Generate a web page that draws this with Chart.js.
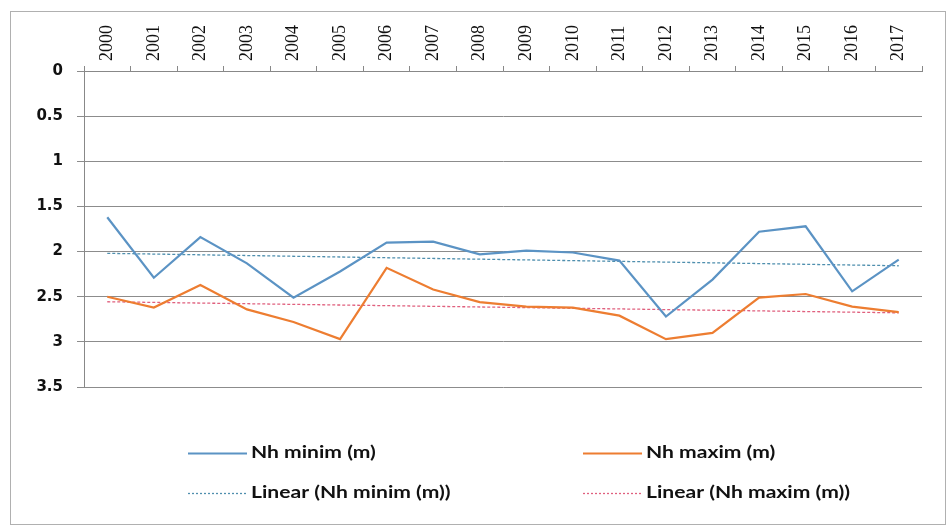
<!DOCTYPE html>
<html>
<head>
<meta charset="utf-8">
<script src="https://cdn.jsdelivr.net/npm/chart.js@4"></script>
<style>
  html, body { margin: 0; padding: 0; background: #fff; }
  #wrap { width: 948px; height: 527px; position: relative; }
</style>
</head>
<body>
<div id="wrap"><canvas id="chart" width="948" height="527"></canvas></div>
<script>
const years = ['2000','2001','2002','2003','2004','2005','2006','2007','2008','2009',
               '2010','2011','2012','2013','2014','2015','2016','2017'];
const nhMinim = [1.62, 2.29, 1.84, 2.13, 2.51, 2.22, 1.90, 1.89, 2.03, 1.99,
                 2.01, 2.10, 2.72, 2.31, 1.78, 1.72, 2.44, 2.09];
const nhMaxim = [2.50, 2.62, 2.37, 2.64, 2.78, 2.97, 2.18, 2.42, 2.56, 2.61,
                 2.62, 2.71, 2.97, 2.90, 2.51, 2.47, 2.61, 2.67];
const yTicks = [0, 0.5, 1, 1.5, 2, 2.5, 3, 3.5];

// least squares trend, drawn as a straight line between first and last year
const trend = (vals) => {
    const n = vals.length;
    let sx = 0, sy = 0, sxy = 0, sxx = 0;
    vals.forEach((v, i) => { sx += i; sy += v; sxy += i * v; sxx += i * i; });
    const b = (n * sxy - sx * sy) / (n * sxx - sx * sx);
    const a = (sy - b * sx) / n;
    return vals.map((v, i) => (i === 0 || i === n - 1) ? a + b * i : null);
};

const blue = '#5b93c4';
const orange = '#ed7d31';
const blueTrend = '#4f8fae';
const pinkTrend = '#e0607e';

const frame = {
    id: 'frame',
    beforeDraw(chart) {
        const ctx = chart.ctx;
        ctx.save();
        ctx.fillStyle = '#fff';
        ctx.fillRect(0, 0, chart.width, chart.height);
        ctx.strokeStyle = '#b0b0b0';
        ctx.lineWidth = 1;
        ctx.strokeRect(10.5, 11.5, 935, 513);
        ctx.restore();
    }
};

// 2x2 legend under the plot, text a bit stretched like the original
const legendBox = {
    id: 'legendBox',
    afterDraw(chart) {
        const ctx = chart.ctx;
        const spots = [[188, 453], [583, 453], [188, 493], [583, 493]];
        ctx.save();
        ctx.font = 'bold 17px Lato';
        ctx.textBaseline = 'middle';
        chart.data.datasets.forEach((ds, i) => {
            const [x, y] = spots[i];
            ctx.strokeStyle = ds.borderColor;
            ctx.lineWidth = ds.borderDash ? 1.3 : 2;
            ctx.setLineDash(ds.borderDash ? [2, 2] : []);
            ctx.beginPath();
            ctx.moveTo(x, y + 0.5);
            ctx.lineTo(x + 59, y + 0.5);
            ctx.stroke();
            ctx.setLineDash([]);
            ctx.fillStyle = '#111';
            ctx.save();
            ctx.translate(x + 63, y);
            ctx.scale(1.24, 1);
            ctx.fillText(ds.label, 0, 0);
            ctx.restore();
        });
        ctx.restore();
    }
};

new Chart(document.getElementById('chart'), {
    type: 'line',
    data: {
        labels: years,
        datasets: [
            { label: 'Nh minim (m)', data: nhMinim, borderColor: blue, borderWidth: 2.2,
              pointRadius: 0, tension: 0 },
            { label: 'Nh maxim (m)', data: nhMaxim, borderColor: orange, borderWidth: 2.2,
              pointRadius: 0, tension: 0 },
            { label: 'Linear (Nh minim (m))', data: trend(nhMinim), borderColor: blueTrend,
              borderWidth: 1.3, borderDash: [3, 2], pointRadius: 0, spanGaps: true },
            { label: 'Linear (Nh maxim (m))', data: trend(nhMaxim), borderColor: pinkTrend,
              borderWidth: 1.3, borderDash: [3, 2], pointRadius: 0, spanGaps: true }
        ]
    },
    options: {
        responsive: false,
        animation: false,
        layout: { padding: { left: 0, right: 26, top: 0, bottom: 140 } },
        plugins: { legend: { display: false }, tooltip: { enabled: false } },
        scales: {
            x: {
                position: 'top',
                offset: true,
                grid: { offset: true, drawOnChartArea: false, tickLength: 5, color: '#888' },
                border: { color: '#888' },
                ticks: { minRotation: 90, maxRotation: 90, padding: 5, color: '#111',
                         labelOffset: 21.6,
                         font: { family: 'Liberation Serif', size: 18 } },
                afterFit: (s) => { s.height = 71; }
            },
            y: {
                reverse: true,
                min: 0,
                max: 3.5,
                afterBuildTicks: (s) => { s.ticks = yTicks.map(v => ({ value: v })); },
                grid: { color: '#8c8c8c', tickLength: 7 },
                border: { color: '#888' },
                ticks: { padding: 14, color: '#111', callback: (v) => String(v),
                         font: { family: 'DejaVu Sans', size: 15, weight: 'bold' } },
                afterFit: (s) => { s.width = 84; }
            }
        }
    },
    plugins: [frame, legendBox]
});
</script>
</body>
</html>
